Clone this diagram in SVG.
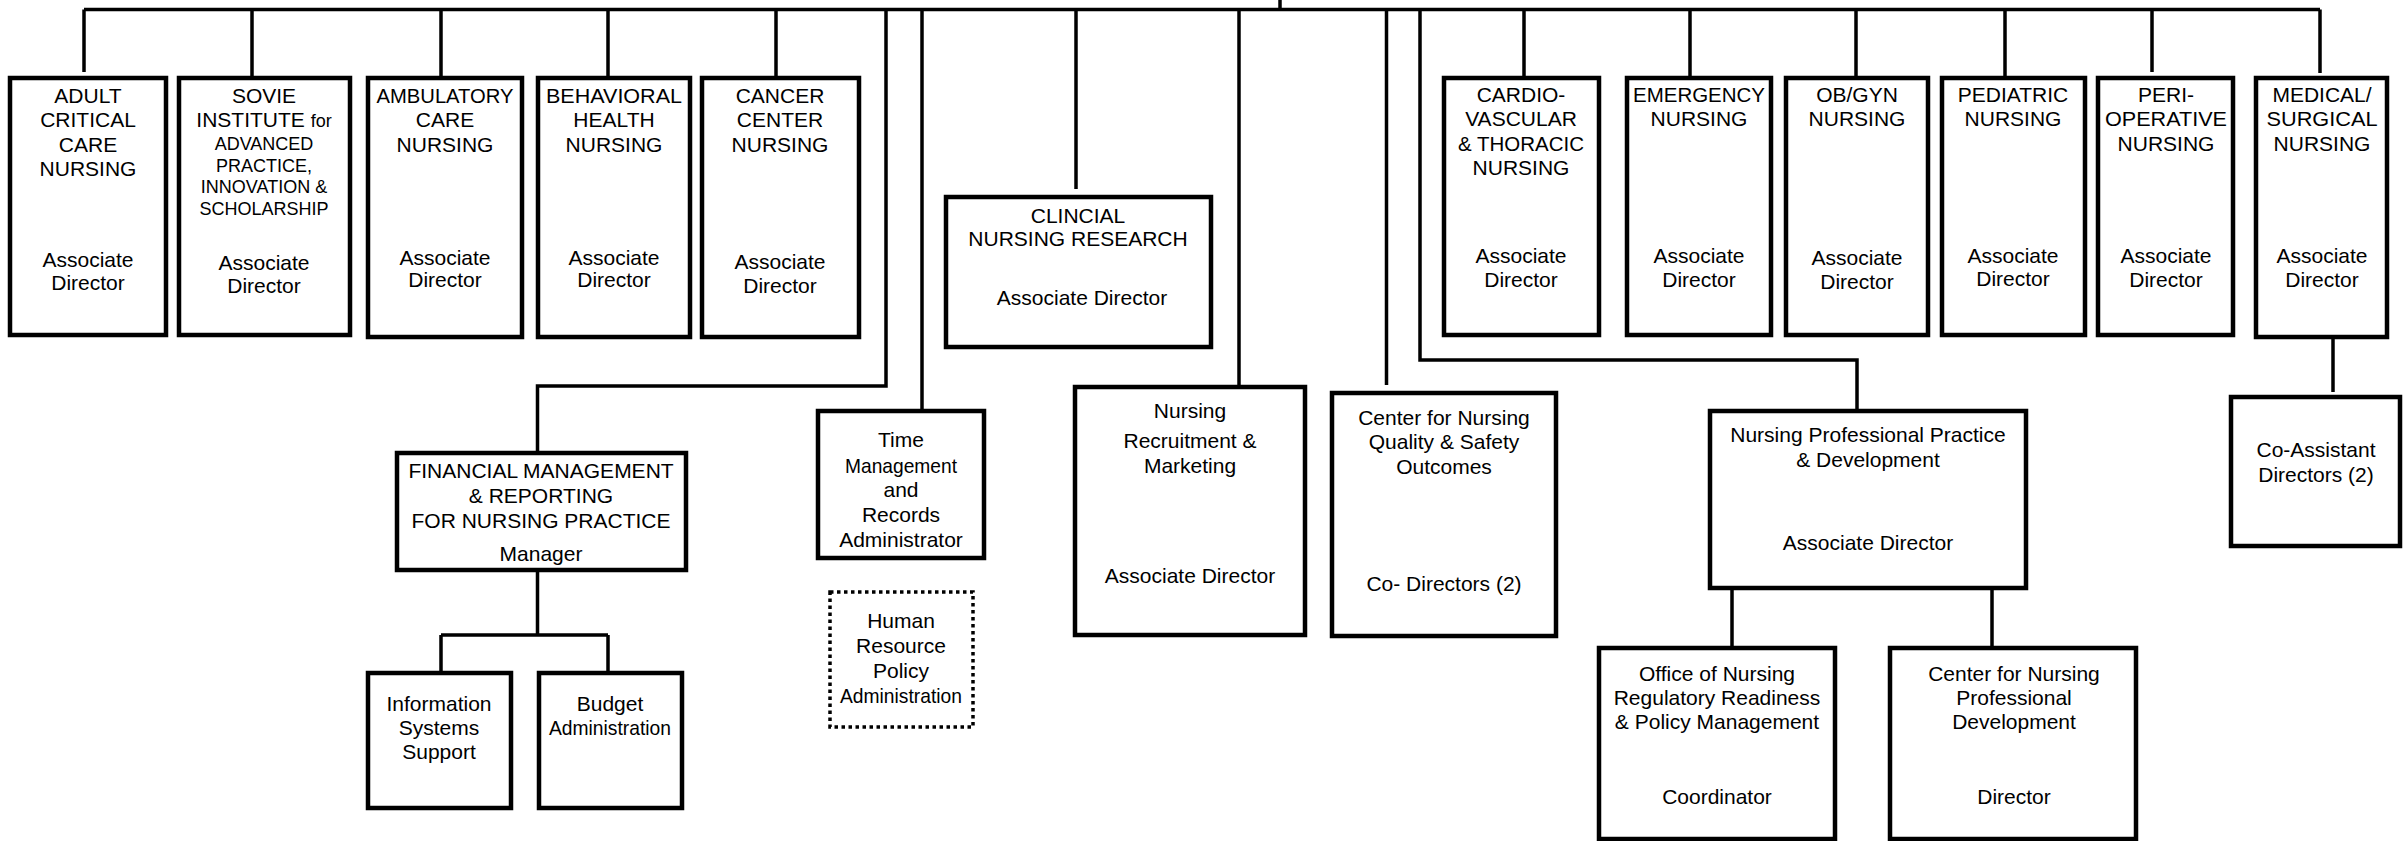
<svg xmlns="http://www.w3.org/2000/svg" width="2406" height="841" viewBox="0 0 2406 841">
<style>
.b{fill:#fff;stroke:#000;stroke-width:4.5}
.d{fill:#fff;stroke:#000;stroke-width:3.5;stroke-dasharray:3.5 3.5}
.c{fill:none;stroke:#000;stroke-width:3.5}
text{font-family:"Liberation Sans",Arial,sans-serif;font-size:21px;fill:#000;text-anchor:middle}
.s{font-size:18px}
</style>
<rect width="2406" height="841" fill="#fff"/>
<g id="connectors">
<path class="c" d="M84,9.5H2320"/>
<path class="c" d="M1280,0V9.5"/>
<path class="c" d="M84,9.5V72M252,9.5V78M441,9.5V78M608,9.5V78M776,9.5V78"/>
<path class="c" d="M886,9.5V386H537.5V453"/>
<path class="c" d="M922,9.5V411"/>
<path class="c" d="M1076,9.5V189"/>
<path class="c" d="M1239,9.5V387"/>
<path class="c" d="M1386.5,9.5V385"/>
<path class="c" d="M1420,9.5V360H1857V411"/>
<path class="c" d="M1524,9.5V78M1690,9.5V78M1856,9.5V78M2005,9.5V78M2152,9.5V72M2320,9.5V73"/>
<path class="c" d="M2333,337V392"/>
<path class="c" d="M537.5,570V635M441,635H608M441,635V673M608,635V673"/>
<path class="c" d="M1732,588V648M1992,588V648"/>
</g>
<g id="adult"><rect class="b" x="10" y="78" width="156" height="257"/>
<text x="88" y="103">ADULT</text><text x="88" y="127">CRITICAL</text><text x="88" y="152">CARE</text><text x="88" y="176">NURSING</text>
<text x="88" y="267">Associate</text><text x="88" y="290">Director</text></g>
<g id="sovie"><rect class="b" x="179" y="78" width="171" height="257"/>
<text x="264" y="103">SOVIE</text><text x="264" y="127">INSTITUTE <tspan class="s">for</tspan></text>
<text class="s" x="264" y="150">ADVANCED</text><text class="s" x="264" y="172">PRACTICE,</text><text class="s" x="264" y="193">INNOVATION &amp;</text><text class="s" x="264" y="215">SCHOLARSHIP</text>
<text x="264" y="270">Associate</text><text x="264" y="293">Director</text></g>
<g id="ambulatory"><rect class="b" x="368" y="78" width="154" height="259"/>
<text x="445" y="103" textLength="137" lengthAdjust="spacingAndGlyphs">AMBULATORY</text><text x="445" y="127">CARE</text><text x="445" y="152">NURSING</text>
<text x="445" y="265">Associate</text><text x="445" y="287">Director</text></g>
<g id="behavioral"><rect class="b" x="538" y="78" width="152" height="259"/>
<text x="614" y="103" textLength="136" lengthAdjust="spacingAndGlyphs">BEHAVIORAL</text><text x="614" y="127">HEALTH</text><text x="614" y="152">NURSING</text>
<text x="614" y="265">Associate</text><text x="614" y="287">Director</text></g>
<g id="cancer"><rect class="b" x="702" y="78" width="157" height="259"/>
<text x="780" y="103">CANCER</text><text x="780" y="127">CENTER</text><text x="780" y="152">NURSING</text>
<text x="780" y="269">Associate</text><text x="780" y="293">Director</text></g>
<g id="clinical"><rect class="b" x="946" y="197" width="265" height="150"/>
<text x="1078" y="223">CLINCIAL</text><text x="1078" y="246">NURSING RESEARCH</text>
<text x="1082" y="305">Associate Director</text></g>
<g id="cardio"><rect class="b" x="1444" y="78" width="155" height="257"/>
<text x="1521" y="102">CARDIO-</text><text x="1521" y="126">VASCULAR</text><text x="1521" y="151" textLength="126" lengthAdjust="spacingAndGlyphs">&amp; THORACIC</text><text x="1521" y="175">NURSING</text>
<text x="1521" y="263">Associate</text><text x="1521" y="287">Director</text></g>
<g id="emergency"><rect class="b" x="1627" y="78" width="144" height="257"/>
<text x="1699" y="102" textLength="132" lengthAdjust="spacingAndGlyphs">EMERGENCY</text><text x="1699" y="126">NURSING</text>
<text x="1699" y="263">Associate</text><text x="1699" y="287">Director</text></g>
<g id="obgyn"><rect class="b" x="1786" y="78" width="142" height="257"/>
<text x="1857" y="102">OB/GYN</text><text x="1857" y="126">NURSING</text>
<text x="1857" y="265">Associate</text><text x="1857" y="289">Director</text></g>
<g id="pediatric"><rect class="b" x="1942" y="78" width="143" height="257"/>
<text x="2013" y="102">PEDIATRIC</text><text x="2013" y="126">NURSING</text>
<text x="2013" y="263">Associate</text><text x="2013" y="286">Director</text></g>
<g id="peri"><rect class="b" x="2098" y="78" width="135" height="257"/>
<text x="2166" y="102">PERI-</text><text x="2166" y="126" textLength="122" lengthAdjust="spacingAndGlyphs">OPERATIVE</text><text x="2166" y="151">NURSING</text>
<text x="2166" y="263">Associate</text><text x="2166" y="287">Director</text></g>
<g id="medical"><rect class="b" x="2256" y="78" width="131" height="259"/>
<text x="2322" y="102">MEDICAL/</text><text x="2322" y="126" textLength="111" lengthAdjust="spacingAndGlyphs">SURGICAL</text><text x="2322" y="151">NURSING</text>
<text x="2322" y="263">Associate</text><text x="2322" y="287">Director</text></g>
<g id="financial"><rect class="b" x="397" y="453" width="289" height="117"/>
<text x="541" y="478">FINANCIAL MANAGEMENT</text><text x="541" y="503">&amp; REPORTING</text><text x="541" y="528">FOR NURSING PRACTICE</text>
<text x="541" y="561">Manager</text></g>
<g id="info"><rect class="b" x="368" y="673" width="143" height="135"/>
<text x="439" y="711">Information</text><text x="439" y="735">Systems</text><text x="439" y="759">Support</text></g>
<g id="budget"><rect class="b" x="539" y="673" width="143" height="135"/>
<text x="610" y="711">Budget</text><text x="610" y="735" textLength="122" lengthAdjust="spacingAndGlyphs">Administration</text></g>
<g id="time"><rect class="b" x="818" y="411" width="166" height="147"/>
<text x="901" y="447">Time</text><text x="901" y="473" textLength="112" lengthAdjust="spacingAndGlyphs">Management</text><text x="901" y="497">and</text><text x="901" y="522">Records</text><text x="901" y="547">Administrator</text></g>
<g id="hr"><rect class="d" x="830" y="592" width="143" height="135"/>
<text x="901" y="628">Human</text><text x="901" y="653">Resource</text><text x="901" y="678">Policy</text><text x="901" y="703" textLength="122" lengthAdjust="spacingAndGlyphs">Administration</text></g>
<g id="recruit"><rect class="b" x="1075" y="387" width="230" height="248"/>
<text x="1190" y="418">Nursing</text><text x="1190" y="448">Recruitment &amp;</text><text x="1190" y="473">Marketing</text>
<text x="1190" y="583">Associate Director</text></g>
<g id="quality"><rect class="b" x="1332" y="393" width="224" height="243"/>
<text x="1444" y="425">Center for Nursing</text><text x="1444" y="449">Quality &amp; Safety</text><text x="1444" y="474">Outcomes</text>
<text x="1444" y="591">Co- Directors (2)</text></g>
<g id="npp"><rect class="b" x="1710" y="411" width="316" height="177"/>
<text x="1868" y="442">Nursing Professional Practice</text><text x="1868" y="467">&amp; Development</text>
<text x="1868" y="550">Associate Director</text></g>
<g id="coassist"><rect class="b" x="2231" y="397" width="169" height="149"/>
<text x="2316" y="457">Co-Assistant</text><text x="2316" y="482">Directors (2)</text></g>
<g id="office"><rect class="b" x="1599" y="648" width="236" height="191"/>
<text x="1717" y="681">Office of Nursing</text><text x="1717" y="705">Regulatory Readiness</text><text x="1717" y="729">&amp; Policy Management</text>
<text x="1717" y="804">Coordinator</text></g>
<g id="cnpd"><rect class="b" x="1890" y="648" width="246" height="191"/>
<text x="2014" y="681">Center for Nursing</text><text x="2014" y="705">Professional</text><text x="2014" y="729">Development</text>
<text x="2014" y="804">Director</text></g>
</svg>
